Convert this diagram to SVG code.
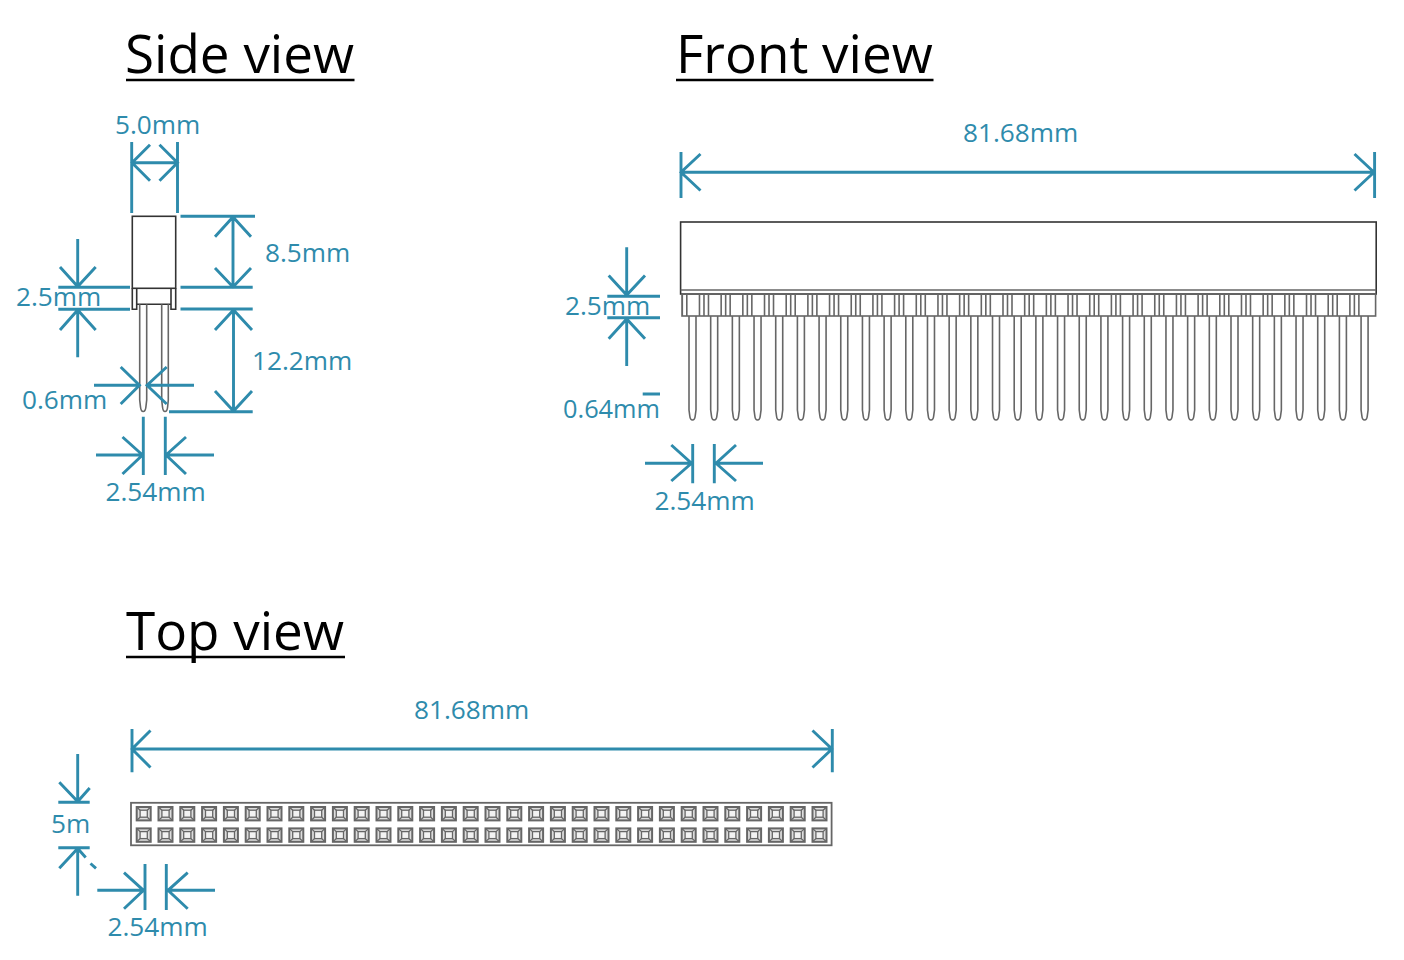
<svg xmlns="http://www.w3.org/2000/svg" xmlns:xlink="http://www.w3.org/1999/xlink" width="1404" height="960" viewBox="0 0 1404 960">
<style>
.title{font-family:"Open Sans","Liberation Sans",sans-serif;font-size:53px;fill:#000}
.ul{stroke:#000;stroke-width:2.6;fill:none}
.dim{font-family:"Open Sans","Liberation Sans",sans-serif;font-size:26.2px;fill:#2e8bac}
.c{fill:none;stroke:#2e8bac;stroke-width:2.9}
.d{fill:none;stroke:#333;stroke-width:1.6}
.g{fill:none;stroke:#666;stroke-width:1.6}
.s{fill:#ddd;stroke:#666;stroke-width:2}
.i{fill:#f2f2f2;stroke:#666;stroke-width:1.3}
.j{fill:none;stroke:#666;stroke-width:1.3}
</style>
<defs>
<clipPath id="hclip"><rect x="682" y="294" width="693.6" height="22"/></clipPath>
<path id="pin" class="g" d="M0,0V94L0.8,100Q1.2,104 3.5,104Q5.800,104 6.2,100L7,94V0"/>
<g id="pin4"><use xlink:href="#pin" href="#pin"/><use href="#pin" xlink:href="#pin" x="21.68"/><use href="#pin" xlink:href="#pin" x="43.36"/><use href="#pin" xlink:href="#pin" x="65.04"/></g>
<g id="pin16"><use href="#pin4" xlink:href="#pin4"/><use href="#pin4" xlink:href="#pin4" x="86.72"/><use href="#pin4" xlink:href="#pin4" x="173.44"/><use href="#pin4" xlink:href="#pin4" x="260.16"/></g>
<path id="tri" class="g" d="M-4.5,294V316M0,294V316M4.5,294V316"/>
<g id="tri4"><use href="#tri" xlink:href="#tri"/><use href="#tri" xlink:href="#tri" x="21.68"/><use href="#tri" xlink:href="#tri" x="43.36"/><use href="#tri" xlink:href="#tri" x="65.04"/></g>
<g id="tri16"><use href="#tri4" xlink:href="#tri4"/><use href="#tri4" xlink:href="#tri4" x="86.72"/><use href="#tri4" xlink:href="#tri4" x="173.44"/><use href="#tri4" xlink:href="#tri4" x="260.16"/></g>
<g id="sock"><rect class="s" x="0" y="0" width="14" height="13.4"/><rect class="i" x="3.4" y="3.2" width="7.2" height="7"/><path class="j" d="M0,0L3.4,3.2M14,0L10.6,3.2M0,13.4L3.4,10.2M14,13.4L10.6,10.2"/></g>
<g id="col"><use href="#sock" xlink:href="#sock" y="807"/><use href="#sock" xlink:href="#sock" y="828.4"/></g>
<g id="col4"><use href="#col" xlink:href="#col"/><use href="#col" xlink:href="#col" x="21.8"/><use href="#col" xlink:href="#col" x="43.6"/><use href="#col" xlink:href="#col" x="65.4"/></g>
<g id="col16"><use href="#col4" xlink:href="#col4"/><use href="#col4" xlink:href="#col4" x="87.2"/><use href="#col4" xlink:href="#col4" x="174.4"/><use href="#col4" xlink:href="#col4" x="261.6"/></g>
</defs>
<rect width="1404" height="960" fill="#fff"/>

<g id="side-view">
<rect class="d" x="132.3" y="216.3" width="43.4" height="72"/>
<path class="d" d="M132.3,288.3V309.3H136.7V288.3M136.7,304.3H171M171,288.3V309.3H175.7V288.3"/>
<path class="g" d="M139.7,304.3V400L140.500,407Q141,411.5 143.2,411.5Q145.400,411.5 145.900,407L146.7,400V304.3"/>
<path class="g" d="M161.7,304.3V400L162.500,407Q163,411.5 165,411.5Q167.200,411.5 167.600,407L168.3,400V304.3"/>
</g>

<g id="front-view">
<rect class="d" x="680.6" y="222" width="695.6" height="72"/>
<path class="g" d="M680.6,290H1376.2"/>
<rect class="g" x="682" y="294" width="693.6" height="22"/>
<g clip-path="url(#hclip)">
<use href="#tri16" xlink:href="#tri16" x="682.3"/><use href="#tri16" xlink:href="#tri16" x="1029.18"/>
</g>
<g transform="translate(689,316)"><use href="#pin16" xlink:href="#pin16"/><use href="#pin16" xlink:href="#pin16" x="346.88"/></g>
</g>

<g id="top-view">
<rect x="131" y="802.8" width="700.6" height="42.5" fill="none" stroke="#666" stroke-width="1.8"/>
<g transform="translate(136.7,0)"><use href="#col16" xlink:href="#col16"/><use href="#col16" xlink:href="#col16" x="348.8"/></g>
</g>

<g id="connectors">
<path class="c" d="M131.7,142V213M177.5,142V213M132,162.7H177M150,144.7L132,162.7L150,180.7M159.5,144.7L177.5,162.7L159.5,180.7"/>
<path class="c" d="M180.5,216.3H255M180.5,287.3H252.7M233,217V287M215,236.7L233,217L251,236.7M215,268L233,287L251,268"/>
<path class="c" d="M180.5,309H252.7M169,411.7H252.7M233.5,310V411M215,330L233.5,310L252,330M215,391L233.5,411L252,391"/>
<path class="c" d="M58.3,287.3H130M58.3,309.3H130M77.7,239V287M60,267L77.7,286.5L95.7,267M77.7,310V357.3M60,330L77.7,310L95.7,330"/>
<path class="c" d="M94,385.3H139.500M120.7,367L139.500,385.3L120.7,404M194,385.3H147M166.7,367L147,385.3L166.7,404"/>
<path class="c" d="M143.3,416.7V475M165.3,416.7V475M96,455H143M122.5,437L142.500,455L122.5,474M214,455H166M186,437L166,455L186,474"/>

<path class="c" d="M681,152V198M1374.6,152V198M681,172.3H1374M700.5,154L681,172.3L700.5,190.5M1354.5,154L1374,172.3L1354.5,190.5"/>
<path class="c" d="M607.3,296.3H660M607.3,317.7H660M626.7,247.3V296M608.7,275.5L626.7,295L645,275.5M626.7,318V366M608.7,338.7L626.7,319L645,338.7M642.7,394H660"/>
<path class="c" d="M692.7,444V483.3M714.3,444V483.3M645,463.3H692M671.3,445L691.5,463.3L671.3,481M763,463.3H716M736,445L716,463.3L736,481"/>

<path class="c" d="M132,729V772.3M832.3,729V772.3M132,749H832M150.5,730.5L132,749L150.5,767.5M812.5,730.5L832,749L812.5,767.5"/>
<path class="c" d="M58.3,802.3H89.7M58.3,847.7H89.7M77.7,754V802M59.3,782.3L77.7,801.5L89.7,788M77.7,848V895.7M59.3,868.3L77.7,848.5L85.7,857.5M90.5,863.5L96,868.3"/>
<path class="c" d="M145,864V910M166.3,864V910M97.3,890.3H144M124,872.7L143.500,890.3L124,908.7M215,890.3H168M187.7,872.7L168,890.3L187.7,908.7"/>
</g>

<g id="labels">
<text class="title" x="125" y="73">Side view</text>
<path class="ul" d="M126,80H354.500"/>
<text class="title" x="676" y="73">Front view</text>
<path class="ul" d="M676,80H933.500"/>
<text class="title" x="126" y="650">Top view</text>
<path class="ul" d="M126,657H345"/>
<text class="dim" x="115" y="134">5.0mm</text>
<text class="dim" x="265" y="262">8.5mm</text>
<text class="dim" x="252" y="370">12.2mm</text>
<text class="dim" x="16" y="306">2.5mm</text>
<text class="dim" x="22" y="409">0.6mm</text>
<text class="dim" x="105.500" y="501">2.54mm</text>
<text class="dim" x="963" y="142">81.68mm</text>
<text class="dim" x="565" y="315">2.5mm</text>
<text class="dim" x="563" y="418" textLength="97" lengthAdjust="spacingAndGlyphs">0.64mm</text>
<text class="dim" x="654.500" y="510">2.54mm</text>
<text class="dim" x="414" y="719">81.68mm</text>
<text class="dim" x="51" y="833">5m</text>
<text class="dim" x="107.500" y="936">2.54mm</text>
</g>
</svg>
